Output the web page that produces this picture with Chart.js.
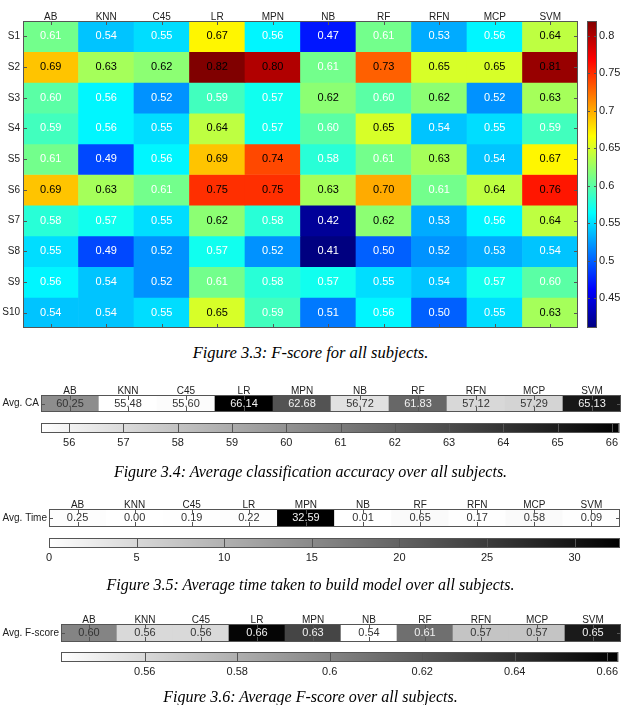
<!DOCTYPE html>
<html lang="en">
<head>
<meta charset="UTF-8">
<title>F-score and averages</title>
<script src="https://cdn.jsdelivr.net/npm/chart.js"></script>
<style>
  body { margin: 0; background: #fff; }
  #page { position: relative; width: 621px; height: 705px; overflow: hidden; background: #fff; }
  #page canvas { position: absolute; left: 0; }
  .caption { position: absolute; left: 0; width: 621px; text-align: center; font-family: 'Liberation Serif', 'DejaVu Serif', serif; font-style: italic; font-size: 16px; line-height: 20px; color: #000; }
</style>
</head>
<body>
<div id="page">
  <canvas id="heat" width="580" height="340" style="top:0"></canvas>
  <canvas id="heatBar" width="41" height="340" style="left:580px; top:0"></canvas>
  <div class="caption" style="top:343px; font-size:16.5px">Figure 3.3: F-score for all subjects.</div>

  <canvas id="caRow" width="621" height="40" style="top:380px"></canvas>
  <canvas id="caBar" width="621" height="32" style="top:418px"></canvas>
  <div class="caption" style="top:462px">Figure 3.4: Average classification accuracy over all subjects.</div>

  <canvas id="timeRow" width="621" height="40" style="top:495px"></canvas>
  <canvas id="timeBar" width="621" height="32" style="top:533px"></canvas>
  <div class="caption" style="top:575px">Figure 3.5: Average time taken to build model over all subjects.</div>

  <canvas id="fRow" width="621" height="40" style="top:610px"></canvas>
  <canvas id="fBar" width="621" height="32" style="top:647px"></canvas>
  <div class="caption" style="top:687px">Figure 3.6: Average F-score over all subjects.</div>
</div>
<script>
// ---- data ----
const classifiers = ['AB', 'KNN', 'C45', 'LR', 'MPN', 'NB', 'RF', 'RFN', 'MCP', 'SVM'];
const subjects = ['S1', 'S2', 'S3', 'S4', 'S5', 'S6', 'S7', 'S8', 'S9', 'S10'];

const fS1  = [0.61, 0.54, 0.55, 0.67, 0.56, 0.47, 0.61, 0.53, 0.56, 0.64];
const fS2  = [0.69, 0.63, 0.62, 0.82, 0.80, 0.61, 0.73, 0.65, 0.65, 0.81];
const fS3  = [0.60, 0.56, 0.52, 0.59, 0.57, 0.62, 0.60, 0.62, 0.52, 0.63];
const fS4  = [0.59, 0.56, 0.55, 0.64, 0.57, 0.60, 0.65, 0.54, 0.55, 0.59];
const fS5  = [0.61, 0.49, 0.56, 0.69, 0.74, 0.58, 0.61, 0.63, 0.54, 0.67];
const fS6  = [0.69, 0.63, 0.61, 0.75, 0.75, 0.63, 0.70, 0.61, 0.64, 0.76];
const fS7  = [0.58, 0.57, 0.55, 0.62, 0.58, 0.42, 0.62, 0.53, 0.56, 0.64];
const fS8  = [0.55, 0.49, 0.52, 0.57, 0.52, 0.41, 0.50, 0.52, 0.53, 0.54];
const fS9  = [0.56, 0.54, 0.52, 0.61, 0.58, 0.57, 0.55, 0.54, 0.57, 0.60];
const fS10 = [0.54, 0.54, 0.55, 0.65, 0.59, 0.51, 0.56, 0.50, 0.55, 0.63];
const fscore = [fS1, fS2, fS3, fS4, fS5, fS6, fS7, fS8, fS9, fS10];

const avgCA   = [60.25, 55.48, 55.60, 66.14, 62.68, 56.72, 61.83, 57.12, 57.29, 65.13];
const avgTime = [0.25, 0.00, 0.19, 0.22, 32.59, 0.01, 0.65, 0.17, 0.58, 0.09];
const avgF    = [0.60, 0.56, 0.56, 0.66, 0.63, 0.54, 0.61, 0.57, 0.57, 0.65];

// colour limits and colorbar ticks
const heatLim = [0.41, 0.82];
const heatTicks = [0.45, 0.5, 0.55, 0.6, 0.65, 0.7, 0.75, 0.8];
const caLim = [55.48, 66.14];
const caTicks = [56, 57, 58, 59, 60, 61, 62, 63, 64, 65, 66];
const timeLim = [0, 32.59];
const timeTicks = [0, 5, 10, 15, 20, 25, 30];
const fLim = [0.5419, 0.6624];
const fTicks = [0.56, 0.58, 0.6, 0.62, 0.64, 0.66];

// ---- helpers ----
const FONT = "'Liberation Sans', Arial, Helvetica, sans-serif";
Chart.defaults.font.family = FONT;
Chart.defaults.font.size = 10;
Chart.defaults.color = '#222';

const clamp = x => Math.max(0, Math.min(1, x));
const norm = (v, lim) => clamp((v - lim[0]) / (lim[1] - lim[0]));
function jet(t) {
  const c = x => Math.round(255 * clamp(x));
  return `rgb(${c(1.5 - Math.abs(4 * t - 3))},${c(1.5 - Math.abs(4 * t - 2))},${c(1.5 - Math.abs(4 * t - 1))})`;
}
function grayRev(t) {
  const g = Math.round(255 * (1 - t));
  return `rgb(${g},${g},${g})`;
}

// value text inside cells
Chart.register({
  id: 'cellLabels',
  afterDatasetsDraw(chart) {
    const ctx = chart.ctx;
    ctx.save();
    ctx.font = '11px ' + FONT;
    ctx.textAlign = 'center';
    ctx.textBaseline = 'middle';
    chart.data.datasets.forEach((ds, i) => {
      if (!ds.texts) return;
      chart.getDatasetMeta(i).data.forEach((el, j) => {
        ctx.fillStyle = ds.textColors[j];
        ctx.fillText(ds.texts[j], el.x, (el.y + el.base) / 2);
      });
    });
    ctx.restore();
  }
});

// box around the plot with inward ticks (matlab style)
Chart.register({
  id: 'frame',
  afterDatasetsDraw(chart, args, opts) {
    const { ctx, chartArea: a, scales } = chart;
    const xt = opts.x || 0, yt = opts.y || 0;
    ctx.save();
    ctx.strokeStyle = opts.color || '#555';
    ctx.lineWidth = 1;
    ctx.beginPath();
    if (xt) scales.x.ticks.forEach(t => {
      const px = Math.round(scales.x.getPixelForValue(t.value)) + 0.5;
      ctx.moveTo(px, a.top); ctx.lineTo(px, a.top + xt);
      ctx.moveTo(px, a.bottom); ctx.lineTo(px, a.bottom - xt);
    });
    if (yt) scales.y.ticks.forEach(t => {
      const py = Math.round(scales.y.getPixelForValue(t.value)) + 0.5;
      ctx.moveTo(a.left, py); ctx.lineTo(a.left + yt, py);
      ctx.moveTo(a.right, py); ctx.lineTo(a.right - yt, py);
    });
    ctx.stroke();
    ctx.strokeRect(Math.round(a.left) + 0.5, Math.round(a.top) + 0.5,
                   Math.round(a.right - a.left) - 1, Math.round(a.bottom - a.top) - 1);
    ctx.restore();
  }
});

const baseOpts = {
  responsive: false,
  animation: false,
  events: [],
};
const quiet = { legend: { display: false }, tooltip: { enabled: false } };

function gradient(chart, horizontal, stops) {
  const a = chart.chartArea;
  if (!a) return '#fff';
  const g = horizontal
    ? chart.ctx.createLinearGradient(a.left, 0, a.right, 0)
    : chart.ctx.createLinearGradient(0, a.bottom, 0, a.top);
  stops.forEach(s => g.addColorStop(s[0], s[1]));
  return g;
}
const jetStops = [[0, 'rgb(0,0,128)'], [0.125, 'rgb(0,0,255)'], [0.375, 'rgb(0,255,255)'],
                  [0.625, 'rgb(255,255,0)'], [0.875, 'rgb(255,0,0)'], [1, 'rgb(128,0,0)']];
const grayStops = [[0, '#fff'], [1, '#000']];

// ---- figure 3.3 heat map ----
new Chart(document.getElementById('heat'), {
  type: 'bar',
  data: {
    labels: classifiers,
    datasets: fscore.map((row, i) => ({
      label: subjects[i],
      data: row.map((v, j) => ({ x: classifiers[j], y: [i, i + 1] })),
      backgroundColor: row.map(v => jet(norm(v, heatLim))),
      texts: row.map(v => v.toFixed(2)),
      textColors: row.map(v => v >= 0.615 ? '#000' : '#fff'),
      borderWidth: 0,
      grouped: false,
      barPercentage: 1,
      categoryPercentage: 1
    }))
  },
  options: {
    ...baseOpts,
    layout: { padding: { top: 0, right: 2, bottom: 12, left: 0 } },
    plugins: { ...quiet, frame: { x: 4, y: 4 } },
    scales: {
      x: {
        type: 'category', position: 'top',
        grid: { display: false, drawTicks: false }, border: { display: false },
        ticks: { padding: -2, autoSkip: false, maxRotation: 0 },
        afterFit: s => { s.height = 21; }
      },
      y: {
        type: 'linear', min: 0, max: subjects.length, reverse: true,
        grid: { display: false, drawTicks: false }, border: { display: false },
        afterBuildTicks: s => { s.ticks = subjects.map((_, i) => ({ value: i + 0.5 })); },
        ticks: { padding: 3, autoSkip: false, callback: (v, i) => subjects[i] },
        afterFit: s => { s.width = 23; }
      }
    }
  }
});

// vertical colorbar
new Chart(document.getElementById('heatBar'), {
  type: 'bar',
  data: {
    labels: [''],
    datasets: [{
      data: [heatLim],
      backgroundColor: ctx => gradient(ctx.chart, false, jetStops),
      borderWidth: 0, barPercentage: 1, categoryPercentage: 1
    }]
  },
  options: {
    ...baseOpts,
    layout: { padding: { top: 21, right: 0, bottom: 12, left: 7 } },
    plugins: { ...quiet, frame: { y: 3 } },
    scales: {
      x: { display: false },
      y: {
        type: 'linear', position: 'right', min: heatLim[0], max: heatLim[1],
        grid: { display: false, drawTicks: false }, border: { display: false },
        afterBuildTicks: s => { s.ticks = heatTicks.map(v => ({ value: v })); },
        ticks: { padding: 2, autoSkip: false, font: { size: 11 }, callback: v => String(v) },
        afterFit: s => { s.width = 24; }
      }
    }
  }
});

// ---- single-row gray maps ----
function rowChart(id, values, lim, rowName, left, right) {
  return new Chart(document.getElementById(id), {
    type: 'bar',
    data: {
      labels: classifiers,
      datasets: [{
        data: values.map(() => [0, 1]),
        backgroundColor: values.map(v => grayRev(norm(v, lim))),
        texts: values.map(v => v.toFixed(2)),
        textColors: values.map(v => norm(v, lim) > 0.52 ? '#f2f2f2' : '#333'),
        borderWidth: 0, barPercentage: 1, categoryPercentage: 1
      }]
    },
    options: {
      ...baseOpts,
      layout: { padding: { top: 0, right: right, bottom: 5, left: 0 } },
      plugins: { ...quiet, frame: { x: 5, y: 4 } },
      scales: {
        x: {
          type: 'category', position: 'top',
          grid: { display: false, drawTicks: false }, border: { display: false },
          ticks: { padding: -2, autoSkip: false, maxRotation: 0 },
          afterFit: s => { s.height = id === 'caRow' ? 15 : 14; }
        },
        y: {
          type: 'linear', min: 0, max: 1,
          grid: { display: false, drawTicks: false }, border: { display: false },
          afterBuildTicks: s => { s.ticks = [{ value: 0.5 }]; },
          ticks: { padding: 2, callback: () => rowName },
          afterFit: s => { s.width = left; }
        }
      }
    }
  });
}

function colorBar(id, lim, ticks, left, right) {
  return new Chart(document.getElementById(id), {
    type: 'bar',
    data: {
      labels: [''],
      datasets: [{
        data: [lim],
        backgroundColor: ctx => gradient(ctx.chart, true, grayStops),
        borderWidth: 0, barPercentage: 1, categoryPercentage: 1
      }]
    },
    options: {
      ...baseOpts,
      indexAxis: 'y',
      layout: { padding: { top: 5, right: right, bottom: 0, left: left } },
      plugins: { ...quiet, frame: { x: 5 } },
      scales: {
        y: { display: false },
        x: {
          type: 'linear', position: 'bottom', min: lim[0], max: lim[1],
          grid: { display: false, drawTicks: false }, border: { display: false },
          afterBuildTicks: s => { s.ticks = ticks.map(v => ({ value: v })); },
          ticks: { padding: 3, autoSkip: false, maxRotation: 0, font: { size: 11 }, callback: v => String(v) },
          afterFit: s => { s.height = 17; }
        }
      }
    }
  });
}

rowChart('caRow', avgCA, caLim, 'Avg. CA', 41, 0);
colorBar('caBar', caLim, caTicks, 41, 0);
rowChart('timeRow', avgTime, timeLim, 'Avg. Time', 49, 1);
colorBar('timeBar', timeLim, timeTicks, 49, 1);
rowChart('fRow', avgF, fLim, 'Avg. F-score', 61, 0);
colorBar('fBar', fLim, fTicks, 61, 0);
</script>
</body>
</html>
